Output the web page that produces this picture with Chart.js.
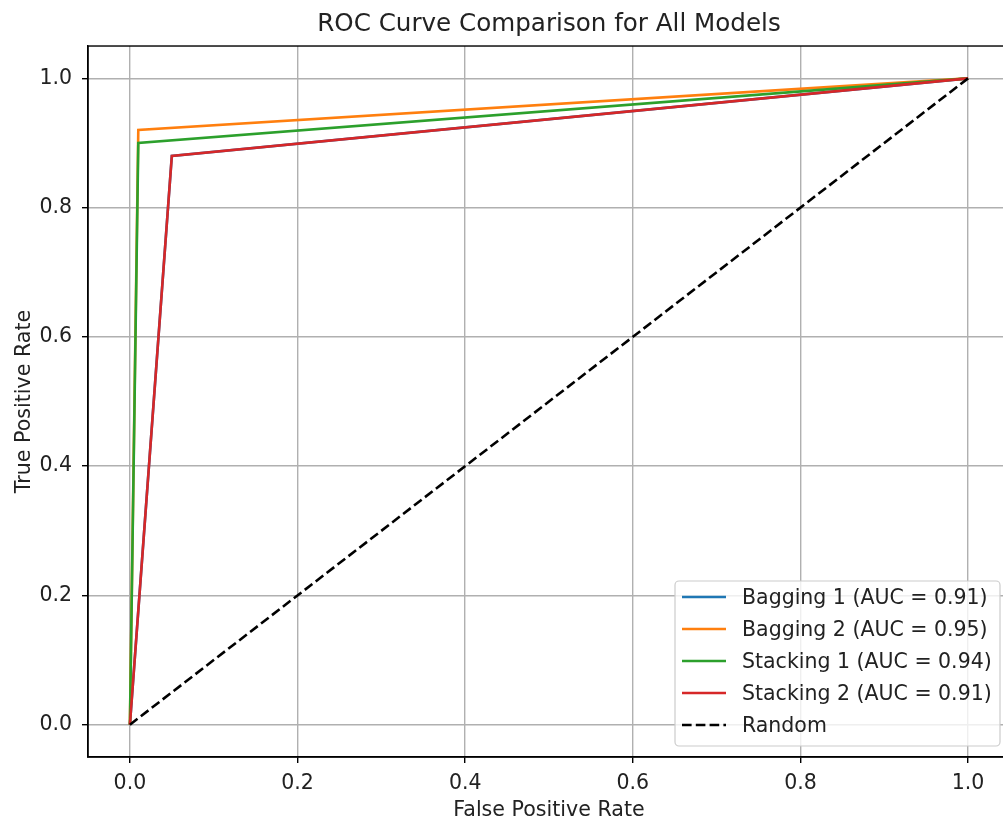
<!DOCTYPE html>
<html>
<head>
<meta charset="utf-8">
<title>ROC Curve Comparison for All Models</title>
<script src="https://cdn.jsdelivr.net/npm/chart.js@4.4.1/dist/chart.umd.min.js"></script>
<style>
  html, body { margin: 0; padding: 0; background: #fff; overflow: hidden; }
  #wrap { width: 1003px; height: 823px; overflow: hidden; }
</style>
</head>
<body>
<div id="wrap"><canvas id="roc" width="1012" height="823"></canvas></div>
<script>
// ROC points (FPR, TPR)
const modelLabels = [
  'Bagging 1 (AUC = 0.91)',
  'Bagging 2 (AUC = 0.95)',
  'Stacking 1 (AUC = 0.94)',
  'Stacking 2 (AUC = 0.91)',
  'Random'
];
const fprBagging1 = [0, 0.05, 1];
const tprBagging1 = [0, 0.88, 1];
const fprBagging2 = [0, 0.01, 1];
const tprBagging2 = [0, 0.92, 1];
const fprStacking1 = [0, 0.01, 1];
const tprStacking1 = [0, 0.90, 1];
const fprStacking2 = [0, 0.05, 1];
const tprStacking2 = [0, 0.88, 1];
const fprRandom = [0, 1];
const tprRandom = [0, 1];

const xTicks = [0, 0.2, 0.4, 0.6, 0.8, 1.0];
const yTicks = [0, 0.2, 0.4, 0.6, 0.8, 1.0];

const colors = ['#1f77b4', '#ff7f0e', '#2ca02c', '#d62728', '#000000'];
const FONT = 'DejaVu Sans';
const LW = 2.6;

const toPts = (xs, ys) => xs.map((x, i) => ({ x, y: ys[i] }));
const series = [
  toPts(fprBagging1, tprBagging1),
  toPts(fprBagging2, tprBagging2),
  toPts(fprStacking1, tprStacking1),
  toPts(fprStacking2, tprStacking2),
  toPts(fprRandom, tprRandom)
];

const datasets = series.map((pts, i) => ({
  label: modelLabels[i],
  data: pts,
  showLine: true,
  borderColor: colors[i],
  backgroundColor: colors[i],
  borderWidth: LW,
  borderDash: i === 4 ? [9.6, 4.2] : [],
  pointRadius: 0,
  tension: 0,
  order: series.length - 1 - i   // matplotlib draws later series on top
}));

// top/right spines
const frame = {
  id: 'frame',
  afterDatasetsDraw(chart) {
    const { ctx, chartArea: a } = chart;
    ctx.save();
    ctx.strokeStyle = '#000';
    ctx.lineWidth = 1.4;
    ctx.strokeRect(a.left, a.top, a.right - a.left, a.bottom - a.top);
    ctx.restore();
  }
};

// matplotlib-style legend in the lower right of the axes
const mplLegend = {
  id: 'mplLegend',
  afterDraw(chart) {
    const { ctx } = chart;
    const box = { x: 675, y: 581, w: 325, h: 165, r: 4 };
    ctx.save();
    ctx.beginPath();
    ctx.roundRect(box.x, box.y, box.w, box.h, box.r);
    ctx.fillStyle = 'rgba(255,255,255,0.8)';
    ctx.fill();
    ctx.strokeStyle = '#cccccc';
    ctx.lineWidth = 1.2;
    ctx.stroke();
    ctx.font = '20.5px "' + FONT + '"';
    ctx.textBaseline = 'middle';
    ctx.textAlign = 'left';
    chart.data.datasets.forEach((ds, i) => {
      const y = 597 + i * 32;
      ctx.beginPath();
      ctx.setLineDash(ds.borderDash || []);
      ctx.strokeStyle = ds.borderColor;
      ctx.lineWidth = LW;
      ctx.moveTo(682, y);
      ctx.lineTo(726, y);
      ctx.stroke();
      ctx.setLineDash([]);
      ctx.fillStyle = '#222';
      ctx.fillText(ds.label, 742, y + 1.5);
    });
    ctx.restore();
  }
};

const tickFont = { family: FONT, size: 20.5 };
const labelFont = { family: FONT, size: 20.6 };

new Chart(document.getElementById('roc'), {
  type: 'scatter',
  data: { datasets },
  plugins: [frame, mplLegend],
  options: {
    responsive: false,
    animation: false,
    events: [],
    layout: { padding: { left: 0, right: 2, top: 0, bottom: 0 } },
    plugins: {
      legend: { display: false },
      tooltip: { enabled: false },
      title: {
        display: true,
        text: 'ROC Curve Comparison for All Models',
        fullSize: false,
        color: '#222',
        font: { family: FONT, size: 24.6, weight: 'normal' },
        padding: { top: 9.5, bottom: 7 }
      }
    },
    scales: {
      x: {
        type: 'linear',
        min: -0.05,
        max: 1.05,
        afterBuildTicks: s => { s.ticks = xTicks.map(v => ({ value: v })); },
        afterFit: s => { s.height = 66; },
        ticks: {
          color: '#222',
          font: tickFont,
          padding: 8,
          maxRotation: 0,
          callback: v => Number(v).toFixed(1)
        },
        grid: { color: '#b0b0b0', lineWidth: 1.4, tickLength: 6, tickColor: '#000', tickWidth: 1.4 },
        border: { display: true, color: '#000', width: 1.4 },
        title: {
          display: true,
          text: 'False Positive Rate',
          color: '#222',
          font: labelFont,
          padding: { top: 0, bottom: 0 }
        }
      },
      y: {
        type: 'linear',
        min: -0.05,
        max: 1.05,
        afterBuildTicks: s => { s.ticks = yTicks.map(v => ({ value: v })); },
        afterFit: s => { s.width = 88; },
        ticks: {
          color: '#222',
          font: tickFont,
          padding: 10,
          callback: v => Number(v).toFixed(1)
        },
        grid: { color: '#b0b0b0', lineWidth: 1.4, tickLength: 6, tickColor: '#000', tickWidth: 1.4 },
        border: { display: true, color: '#000', width: 1.4 },
        title: {
          display: true,
          text: 'True Positive Rate',
          color: '#222',
          font: labelFont,
          padding: { top: 12.6, bottom: 0 }
        }
      }
    }
  }
});
</script>
</body>
</html>
